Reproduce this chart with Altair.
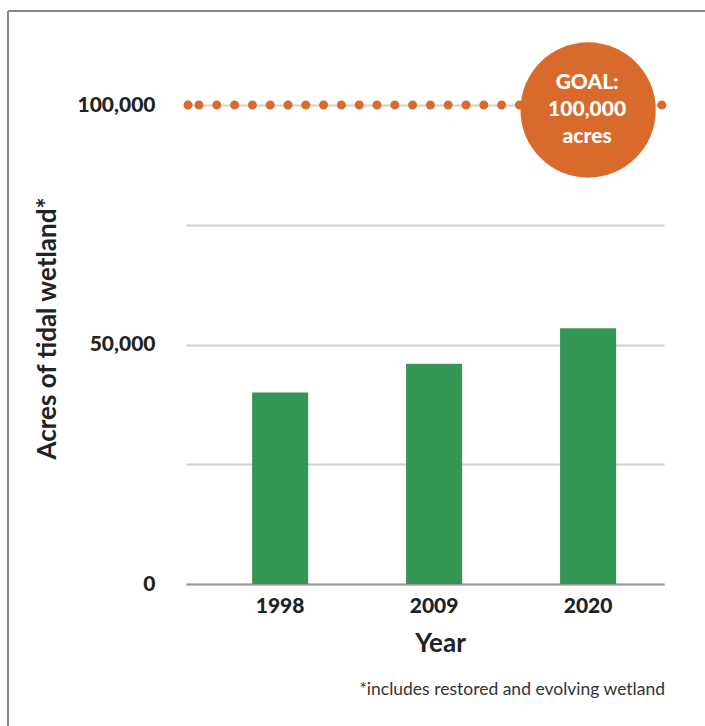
import altair as alt
import pandas as pd

years = ["1998", "2009", "2020"]
acres = [40000, 46000, 53400]
goal_value = 100000
goal_year = "2020"
goal_text = ["GOAL:", "100,000", "acres"]
y_ticks = [0, 25000, 50000, 75000, 100000]
footnote = "*includes restored and evolving wetland"

FONT = "Lato"
GREEN = "#349654"
ORANGE = "#D86B2B"

bars_df = pd.DataFrame({"Year": years, "Acres": acres})
goal_df = pd.DataFrame({"Year": [goal_year], "Acres": [goal_value], "label": [goal_text]})

xscale = alt.Scale(domain=years, paddingInner=0.636, paddingOuter=0.37, align=0.58)
yscale = alt.Scale(domain=[0, 100000], nice=False)

x_enc = alt.X("Year:N", scale=xscale, sort=years,
              axis=alt.Axis(title="Year", labelAngle=0, labelFont=FONT, labelFontSize=21,
                            labelFontWeight=900, labelColor="#222", labelPadding=11,
                            ticks=False, domainColor="#999", domainWidth=2,
                            titleFont=FONT, titleFontSize=26, titleFontWeight="bold",
                            titleColor="#222", titlePadding=14, titleX=254,
                            titleAlign="center", grid=False))
y_enc = alt.Y("Acres:Q", scale=yscale,
              axis=alt.Axis(title="Acres of tidal wetland*", values=y_ticks,
                            labelExpr="datum.value % 50000 == 0 ? format(datum.value, ',') : ''",
                            labelFont=FONT, labelFontSize=21, labelFontWeight=900,
                            labelColor="#222", labelPadding=31, ticks=False, domain=False,
                            gridColor="#d0d0d0", gridWidth=2,
                            titleFont=FONT, titleFontSize=26, titleFontWeight="bold",
                            titleColor="#222", titleAngle=-90, titleAlign="center",
                            titleBaseline="middle", titleX=-139, titleY=223))

bars = alt.Chart(bars_df).mark_bar(color=GREEN).encode(x=x_enc, y=y_enc)

goal_base = alt.Chart(goal_df)
dots_a = goal_base.mark_rule(color=ORANGE, strokeWidth=9, strokeCap="round",
                             strokeDash=[0, 11]).encode(
    y="Acres:Q", x=alt.value(2), x2=alt.value(13))
dots_b = goal_base.mark_rule(color=ORANGE, strokeWidth=9, strokeCap="round",
                             strokeDash=[0, 17.8]).encode(
    y="Acres:Q", x=alt.value(13), x2=alt.value(479))
circle = goal_base.mark_point(shape="circle", filled=True, opacity=1, color=ORANGE,
                              size=18300, yOffset=5).encode(x="Year:N", y="Acres:Q")
circle_text = goal_base.mark_text(font=FONT, fontSize=21, fontWeight=900, color="white",
                                  lineHeight=27, baseline="middle", align="center",
                                  dy=-22, dx=-1).encode(x="Year:N", y="Acres:Q", text="label")

note_df = pd.DataFrame({"note": [footnote]})
note = alt.Chart(note_df).mark_text(font=FONT, fontSize=17.5, color="#333", align="right",
                                    baseline="middle").encode(
    text="note:N", x=alt.value(479), y=alt.value(585))

frame_v = alt.Chart(note_df).mark_rule(color="#888", strokeWidth=2).encode(
    x=alt.value(-178), y=alt.value(-94), y2=alt.value(640))
frame_h = alt.Chart(note_df).mark_rule(color="#888", strokeWidth=2).encode(
    x=alt.value(-178), x2=alt.value(540), y=alt.value(-94))

chart = alt.layer(bars, dots_a, dots_b, circle, circle_text, note, frame_v, frame_h).properties(
    width=478, height=479,
    autosize=alt.AutoSizeParams(type="none"),
    padding={"left": 186, "top": 105, "right": 41, "bottom": 142},
    background="white",
).configure_view(stroke=None)

chart.save("out.html", embed_options={"renderer": "svg", "actions": False})
